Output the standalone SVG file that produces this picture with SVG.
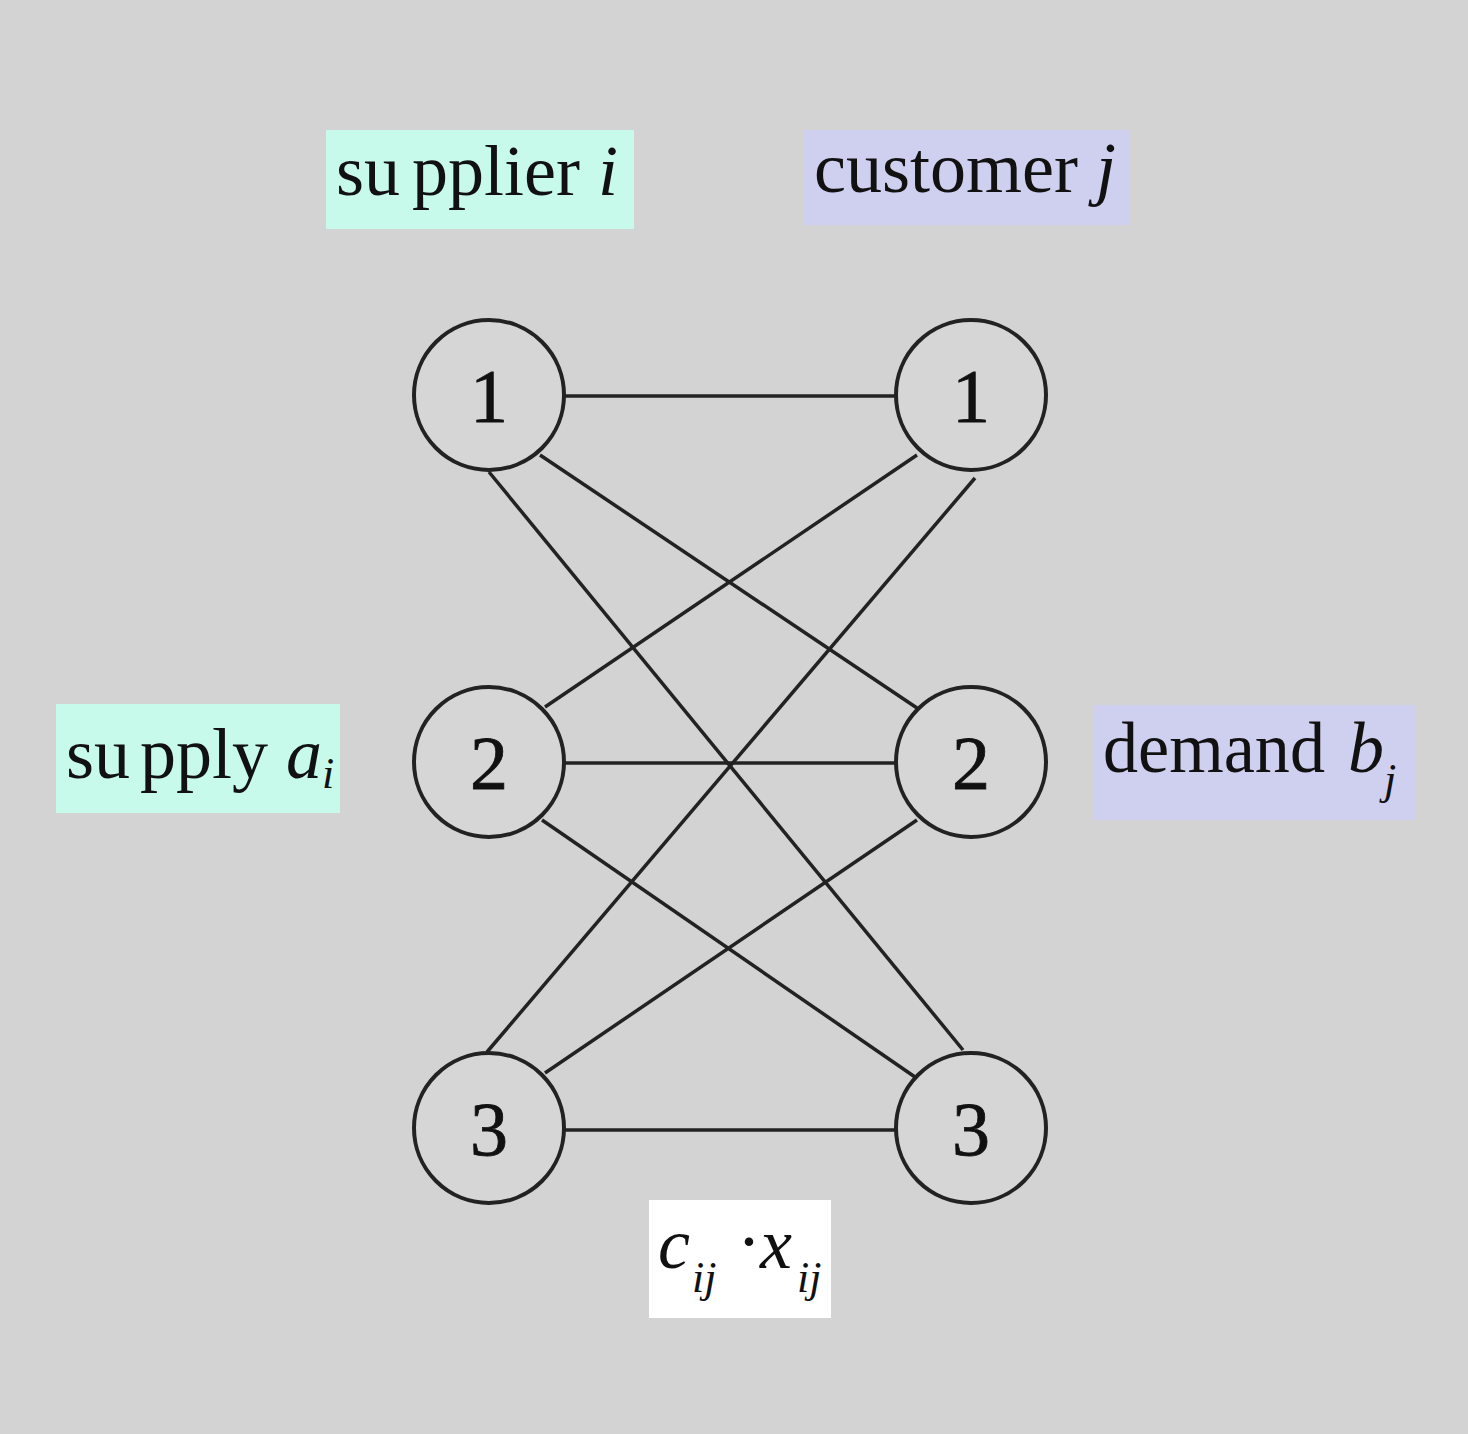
<svg xmlns="http://www.w3.org/2000/svg" width="1468" height="1434" viewBox="0 0 1468 1434">
<style>
.node circle{fill:#d6d6d6;stroke:#222;stroke-width:4}
.num{font-family:"Liberation Serif",serif;font-size:76px;fill:#111;text-anchor:middle;stroke:#111;stroke-width:0.8}
.lbl{font-family:"Liberation Serif",serif;font-size:72px;fill:#111}
.it{font-style:italic}
.sub{font-size:44px;font-style:italic}
#connectors line{stroke:#222;stroke-width:3.5}
</style>
<rect width="1468" height="1434" fill="#d3d3d3"/>
<g id="connectors">
<line x1="565" y1="396" x2="895" y2="396"/>
<line x1="540" y1="455" x2="917" y2="708"/>
<line x1="489" y1="472" x2="963" y2="1050"/>
<line x1="917" y1="455" x2="545" y2="707"/>
<line x1="975" y1="478" x2="487" y2="1052"/>
<line x1="565" y1="763" x2="895" y2="763"/>
<line x1="542" y1="820" x2="915" y2="1077"/>
<line x1="917" y1="820" x2="545" y2="1073"/>
<line x1="565" y1="1130" x2="895" y2="1130"/>
</g>
<g id="s1" class="node"><circle cx="489" cy="395" r="75"/><text class="num" x="489" y="422">1</text></g>
<g id="s2" class="node"><circle cx="489" cy="762" r="75"/><text class="num" x="489" y="789">2</text></g>
<g id="s3" class="node"><circle cx="489" cy="1128" r="75"/><text class="num" x="489" y="1155">3</text></g>
<g id="c1" class="node"><circle cx="971" cy="395" r="75"/><text class="num" x="971" y="422">1</text></g>
<g id="c2" class="node"><circle cx="971" cy="762" r="75"/><text class="num" x="971" y="789">2</text></g>
<g id="c3" class="node"><circle cx="971" cy="1128" r="75"/><text class="num" x="971" y="1155">3</text></g>
<g id="supplier-label">
<rect x="326" y="130" width="308" height="99" fill="#c8faec"/>
<text class="lbl" x="336" y="195">su<tspan dx="12">pplier </tspan><tspan class="it">i</tspan></text>
</g>
<g id="customer-label">
<rect x="804" y="130" width="326" height="95" fill="#cfcff0"/>
<text class="lbl" x="814" y="192">customer <tspan class="it">j</tspan></text>
</g>
<g id="supply-label">
<rect x="56" y="704" width="284" height="109" fill="#c8faec"/>
<text class="lbl" x="66" y="778">su<tspan dx="10">pply </tspan><tspan class="it">a</tspan><tspan class="sub" dy="10">i</tspan></text>
</g>
<g id="demand-label">
<rect x="1093" y="705" width="322" height="115" fill="#cfcff0"/>
<text class="lbl" x="1103" y="772" textLength="222" lengthAdjust="spacingAndGlyphs">demand</text>
<text class="lbl it" x="1348" y="772">b</text>
<text class="lbl sub" x="1384" y="794">j</text>
</g>
<g id="cost-label">
<rect x="649" y="1200" width="182" height="118" fill="#ffffff"/>
<text class="lbl it" x="658" y="1268" font-size="62">c</text>
<text class="lbl sub" x="692" y="1292" font-size="32">ij</text>
<text class="lbl" x="737" y="1266" font-size="40">·</text>
<text class="lbl it" x="760" y="1268" font-size="62">x</text>
<text class="lbl sub" x="797" y="1292" font-size="32">ij</text>
</g>
</svg>
